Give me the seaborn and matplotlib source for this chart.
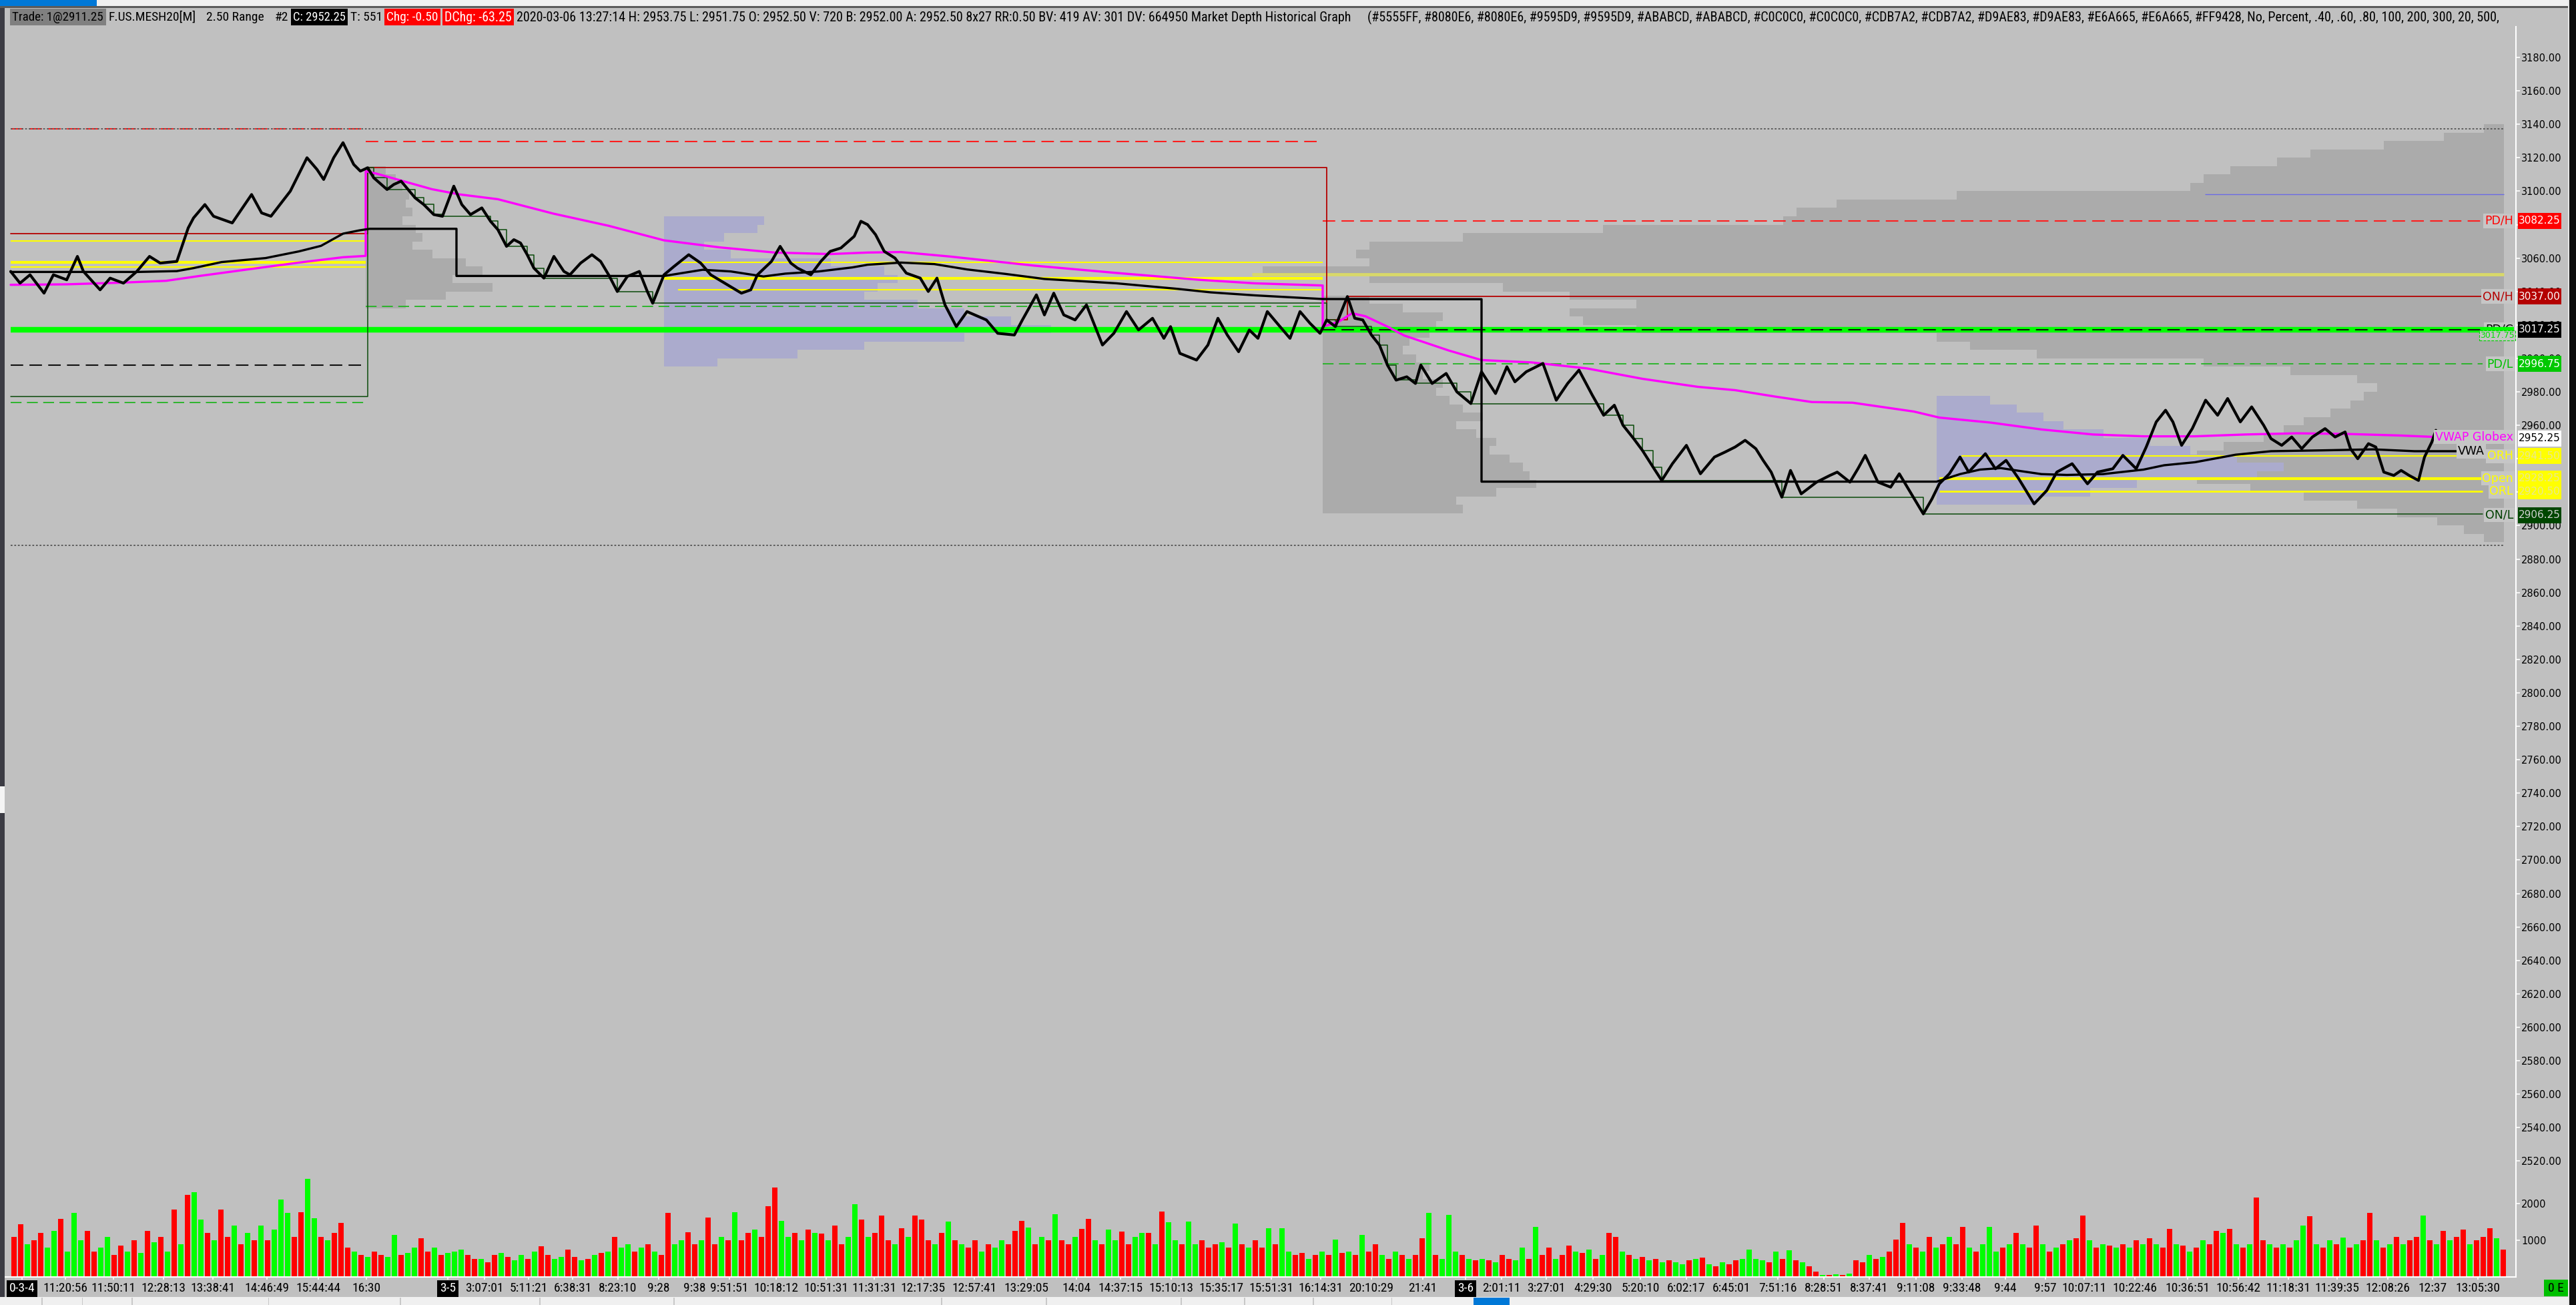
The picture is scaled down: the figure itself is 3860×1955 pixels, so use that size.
import numpy as np
import pandas as pd
import matplotlib
matplotlib.use("Agg")
import matplotlib.pyplot as plt
import matplotlib.transforms as mtransforms
from matplotlib.patches import Rectangle
from matplotlib.ticker import FormatStrFormatter
from matplotlib import font_manager as fm
import seaborn as sns

# ------------------------------------------------------------------ data
# price path (bar index, price)
price_bar = [16, 30, 45, 66, 80, 100, 116, 125, 150, 165,
             185, 205, 224, 240, 265, 282, 290, 307, 320, 348,
             377, 392, 406, 435, 460, 475, 485, 500, 514, 530,
             540, 551, 560, 580, 590, 601, 622, 635, 650, 663,
             680, 692, 705, 722, 735, 746, 759, 770, 780, 790,
             800, 815, 830, 845, 854, 870, 887, 900, 912, 925,
             940, 958, 970, 978, 995, 1010, 1032, 1050, 1065, 1090,
             1111, 1125, 1135, 1156, 1169, 1185, 1195, 1215, 1230, 1244,
             1260, 1280, 1290,
             1300, 1312, 1325, 1341, 1358, 1379, 1391, 1404, 1416, 1433,
             1449, 1478, 1495, 1520, 1532, 1553, 1565, 1579, 1594, 1611,
             1628, 1652, 1669, 1688, 1706, 1727, 1744, 1754, 1768, 1793,
             1810, 1825, 1839, 1856, 1872, 1885, 1899, 1918, 1933, 1948,
             1963, 1978, 1988, 2001, 2019, 2030, 2042, 2055, 2067, 2079,
             2092, 2108, 2121, 2129, 2146, 2167, 2183, 2204, 2220, 2241,
             2258, 2270, 2287, 2312, 2332, 2349, 2366, 2386, 2403, 2419,
             2432, 2448, 2461, 2477, 2490, 2506, 2527, 2548, 2569, 2585,
             2600, 2615, 2631, 2642, 2654, 2670, 2683, 2699, 2722, 2742,
             2753, 2772, 2784, 2795, 2814, 2833, 2846, 2864, 2882, 2895,
             2906, 2921, 2937, 2950, 2975, 2990, 3006, 3025, 3048, 3067,
             3082, 3105, 3128, 3143, 3166, 3181, 3201, 3216, 3231, 3245,
             3256, 3269, 3285, 3305, 3323, 3338, 3357, 3374, 3392, 3403,
             3419, 3434, 3449, 3465, 3484, 3499, 3514, 3522, 3533, 3549,
             3560, 3572, 3587, 3598, 3610, 3624, 3633, 3644, 3650, 3658]
price_close = [3052, 3045, 3050, 3039, 3050, 3047, 3061, 3052, 3041, 3048,
               3045, 3052, 3061, 3057, 3058, 3078, 3084, 3092, 3085, 3081,
               3098, 3087, 3085, 3100, 3120, 3113, 3107, 3120, 3129, 3116,
               3112, 3114, 3108, 3101, 3104, 3106, 3096, 3092, 3086, 3085,
               3103, 3092, 3086, 3090, 3082, 3077, 3067, 3071, 3069, 3062,
               3054, 3048, 3061, 3052, 3050, 3057, 3062, 3058, 3050, 3040,
               3049, 3052, 3040, 3033, 3050, 3055, 3062, 3057, 3050, 3044,
               3039, 3041, 3050, 3058, 3067, 3057, 3054, 3050, 3058, 3064,
               3066, 3073, 3082,
               3080, 3074, 3064, 3060, 3051, 3048, 3040, 3048, 3032, 3019,
               3028, 3023, 3015, 3014, 3023, 3038, 3026, 3039, 3026, 3023,
               3032, 3008, 3015, 3028, 3017, 3024, 3012, 3019, 3003, 2999,
               3008, 3024, 3014, 3004, 3017, 3012, 3028, 3019, 3012, 3028,
               3021, 3015, 3023, 3019, 3037, 3024, 3023, 3014, 3008, 2996,
               2987, 2989, 2985, 2996, 2985, 2991, 2980, 2973, 2992, 2979,
               2995, 2986, 2992, 2997, 2975, 2985, 2993, 2978, 2966, 2972,
               2960, 2952, 2945, 2935, 2927, 2937, 2948, 2931, 2941, 2944,
               2947, 2951, 2946, 2939, 2932, 2917, 2933, 2919, 2926, 2930,
               2932, 2926, 2934, 2942, 2926, 2923, 2931, 2919, 2907, 2916,
               2925, 2931, 2941, 2932, 2943, 2934, 2939, 2928, 2913, 2921,
               2932, 2937, 2925, 2932, 2934, 2942, 2934, 2947, 2962, 2969,
               2962, 2948, 2958, 2975, 2966, 2976, 2962, 2971, 2960, 2952,
               2948, 2953, 2946, 2953, 2958, 2953, 2956, 2946, 2940, 2949,
               2947, 2932, 2930, 2933, 2930, 2927, 2941, 2950, 2957, 2952.25]

# Globex VWAP (magenta)
vwapg_bar = [16, 100, 182, 249, 299, 373, 448, 514, 548,
             548, 564, 614, 647, 688, 746, 829, 912, 995,
             1078, 1161, 1244, 1300, 1350, 1424, 1549, 1673, 1797, 1880,
             1982, 1982, 2005, 2026, 2046, 2079, 2104, 2171, 2220, 2295,
             2378, 2461, 2544, 2600, 2661, 2715, 2776, 2868, 2906, 2983,
             3059, 3136, 3212, 3289, 3365, 3442, 3518, 3595, 3644]
vwapg = [3044, 3044.3, 3045.3, 3046.4, 3049.3, 3053.3, 3057.3, 3060.5, 3061.3,
         3111.9, 3110.5, 3104.9, 3101.2, 3098.1, 3095.2, 3086.6, 3079.3, 3070.6,
         3066.4, 3063.3, 3062.4, 3063.3, 3063.6, 3060.9, 3055.5, 3051.1, 3047, 3044.9,
         3043.6, 3019, 3021.7, 3027, 3025.2, 3019, 3013.7, 3004.7, 2999, 2997.6,
         2994, 2987.8, 2983, 2981, 2977.1, 2973.9, 2973.5, 2968.2, 2964.6, 2961.6,
         2957.5, 2954.5, 2953.4, 2953.4, 2954.5, 2955.2, 2954.8, 2953.9, 2953.1]

# session VWAP / steps (black)
vwaps_bar = [16, 207, 265, 290, 332, 398, 448, 481, 514, 539,
             554, 684, 684, 995, 1053, 1095, 1144, 1177, 1227, 1277,
             1300, 1350, 1400, 1449, 1507, 1565, 1673, 1764, 1814, 1880,
             1982, 2220, 2220, 2902, 2937, 2967, 2998, 3028, 3059, 3097,
             3151, 3212, 3243, 3289, 3350, 3403, 3480, 3556, 3618, 3683]
vwaps = [3051.7, 3051.7, 3052.2, 3054, 3057.6, 3060, 3064, 3067.3, 3074.6, 3076.6,
         3077.5, 3077.5, 3049.3, 3049.3, 3053, 3052, 3049, 3050.7, 3052, 3054.4,
         3056, 3057.3, 3056.4, 3053.2, 3050.5, 3047.5, 3044.9, 3041.6, 3039.5, 3037.7,
         3035.5, 3035.4, 2926.3, 2926.3, 2930.8, 2933.5, 2934.4, 2932.6, 2930.8, 2930.3,
         2930.8, 2933.5, 2936.1, 2937.9, 2942.4, 2944.5, 2945, 2945.6, 2944.5, 2944.5]

# overnight sessions (bar index) and prior overnight levels
on_start = [548, 1982]
on_end = [995, 2902]
prior_on_high = 3074.5
prior_on_low = 2977.1
levels_end_bar = 3720

# horizontal reference levels
level_price = [3137.1, 3070.3, 3057.6, 3054.5, 2995.8, 2973.5,
               3129.6, 3030.9, 3057.3, 3048.0, 3040.9,
               3082.25, 3017.25, 2996.75, 2941.5, 2928.25, 2920.5,
               3137.2, 2888.0, 3018.0, 3016.3, 3050.4, 3098.3]
level_start = [16, 16, 16, 16, 16, 16,
               548, 548, 1020, 995, 1016,
               1982, 1982, 1982, 2939, 2906, 2906,
               16, 16, 16, 16, 1876, 3304]
level_end = [548, 548, 548, 548, 548, 548,
             1982, 1982, 1982, 1982, 1982,
             3720, 3720, 3720, 3720, 3720, 3720,
             3752, 3752, 3767, 3767, 3752, 3752]

# volume profiles: (top price bin, widths in bars, anchor bar)
comp_top, comp_anchor = 3137.5, 3752
comp_width = [30, 90, 180, 290, 340, 410, 450, 470, 820, 1000,
              1060, 1080, 1350, 1560, 1700, 1720, 1700, 1860, 1700, 1500,
              1400, 1300, 1400, 1380, 1300, 850, 800, 700, 450, 320,
              220, 190, 210, 230, 260, 300, 330, 360, 420, 460,
              500, 480, 460, 380, 300, 220, 160, 100, 60, 30]
on2_top, on2_anchor = 3112.5, 548
on2_width = [30, 45, 55, 65, 60, 70, 55, 75, 85, 70, 100, 150, 175, 130, 190, 120, 60]
rth2_top, rth2_anchor = 3082.5, 995
rth2_width = [150, 140, 90, 60, 100, 250, 330, 350, 320, 300, 380, 450, 520, 580, 450, 300, 200, 80]
on3_top, on3_anchor = 3035.0, 1982
on3_width = [70, 120, 180, 170, 160, 130, 120, 140, 160, 150, 180, 170, 190,
             210, 240, 200, 230, 260, 250, 280, 300, 310, 320, 260, 200, 210]
rth3_top, rth3_anchor = 2975.0, 2902
rth3_width = [80, 120, 160, 190, 250, 320, 380, 450, 520, 480, 300, 230, 150]

# volume bars (one slot per 10 bars)
volume = [1100, 1430, 900, 1000, 1200, 800, 1250, 1590, 700, 1740,
          1000, 1250, 700, 800, 1100, 600, 850, 700, 1000, 650,
          1250, 950, 1100, 700, 1830, 900, 2236, 2315, 1557, 1200,
          1000, 1830, 1100, 1400, 900, 1200, 1000, 1400, 1000, 1300,
          2103, 1751, 1100, 1758, 2679, 1600, 1100, 1000, 1200, 1470,
          800, 700, 600, 550, 700, 600, 550, 1150, 600, 650,
          800, 1060, 700, 800, 600, 650, 700, 750, 600, 500,
          500, 400, 600, 650, 550, 450, 600, 500, 700, 830,
          600, 500, 550, 750, 550, 450, 500, 600, 650, 700,
          1100, 800, 900, 700, 800, 900, 700, 600, 1740, 900,
          1000, 1220, 900, 1000, 1620, 900, 1100, 1000, 1770, 1000,
          1200, 1300, 1100, 1920, 2436, 1530, 1100, 1200, 1000, 1300,
          1200, 1190, 1000, 1400, 900, 1100, 1980, 1560, 1100, 1200,
          1667, 1000, 900, 1330, 1100, 1680, 1560, 1000, 900, 1200,
          1510, 1000, 900, 800, 1000, 700, 900, 800, 1000, 900,
          1250, 1530, 1340, 900, 1100, 1000, 1710, 1000, 900, 1100,
          1310, 1590, 1000, 900, 1300, 1000, 1230, 900, 1100, 1200,
          1200, 900, 1788, 1500, 1000, 900, 1510, 900, 1000, 800,
          900, 950, 800, 1450, 900, 800, 1000, 800, 1330, 900,
          1320, 700, 600, 650, 500, 600, 700, 600, 1020, 650,
          700, 600, 1140, 700, 900, 600, 500, 700, 600, 500,
          600, 1060, 1740, 600, 500, 1700, 700, 600, 500, 450,
          500, 450, 400, 600, 500, 450, 800, 500, 1365, 600,
          800, 500, 600, 850, 700, 650, 740, 500, 600, 1195,
          1100, 700, 600, 500, 550, 450, 500, 400, 450, 400,
          350, 450, 500, 530, 350, 300, 400, 350, 450, 500,
          740, 500, 450, 400, 700, 500, 730, 450, 400, 300,
          150, 60, 60, 80, 50, 100, 450, 400, 600, 500,
          550, 700, 1024, 1467, 900, 800, 700, 1100, 800, 900,
          1100, 900, 1357, 800, 700, 900, 1360, 700, 800, 900,
          1200, 900, 800, 1406, 900, 700, 800, 900, 1000, 1050,
          1679, 1000, 800, 900, 850, 800, 900, 800, 1000, 900,
          1050, 900, 800, 1303, 900, 850, 700, 800, 1000, 900,
          1260, 1200, 1303, 900, 800, 900, 2164, 1000, 900, 800,
          900, 800, 1000, 1406, 1660, 900, 800, 1000, 900, 1070,
          800, 900, 1000, 1740, 1000, 800, 900, 1100, 900, 1000,
          1100, 1679, 1000, 900, 1250, 1000, 1100, 1300, 900, 1000,
          1100, 1330, 1050, 740]
volume_dir = ("rrgrrggrgg" "grrggrrgrg" "rgrgrgrggr" "grrgrgrgrg" "ggrrggrgrr"
              "rgrgrrggrg" "grrgrgggrr" "grrgrggrgr" "rggrrgrgrg" "rggrgrgrrg"
              "grrgrrgrgr" "rgrrrggrgr" "grgrrggrgr" "rrgrgrrrgr" "grgrrgrggr"
              "rrgrgrgrrg" "rrgrggrrgg" "rgrggrggrr" "rgrgrgrrgr" "ggrrgrgrgr"
              "grgrrgrgrg" "rrgrgggrgr" "grgrrggrgr" "rgrrgrgrgr" "rgrgrgrgrg"
              "grgrgrgrrg" "gggrgrgrgr" "rgrgrgrrgr" "grrrgrgrgr" "grrgrgggrg"
              "rgrrgrgrgr" "rgrgrgrgrg" "rgrrgrgrgr" "rgrgrgrrgr" "grggrgrgrg"
              "rgrrgrgrgr" "rgrgrgrrgr" "rrgr")

# time axis
tick_bar = [33, 98, 170, 245, 319, 400, 477, 549, 671, 726, 792, 858, 926, 987, 1041,
            1093, 1163, 1238, 1310, 1383, 1460, 1538, 1613, 1679, 1755, 1830, 1905,
            1979, 2055, 2132, 2196, 2250, 2317, 2387, 2458, 2527, 2594, 2664, 2733,
            2801, 2871, 2940, 3005, 3065, 3123, 3199, 3278, 3354, 3429, 3502, 3578,
            3645, 3713]
tick_label = ["0-3-4", "11:20:56", "11:50:11", "12:28:13", "13:38:41", "14:46:49",
              "15:44:44", "16:30", "3-5", "3:07:01", "5:11:21", "6:38:31", "8:23:10",
              "9:28", "9:38", "9:51:51", "10:18:12", "10:51:31", "11:31:31", "12:17:35",
              "12:57:41", "13:29:05", "14:04", "14:37:15", "15:10:13", "15:35:17",
              "15:51:31", "16:14:31", "20:10:29", "21:41", "3-6", "2:01:11", "3:27:01",
              "4:29:30", "5:20:10", "6:02:17", "6:45:01", "7:51:16", "8:28:51",
              "8:37:41", "9:11:08", "9:33:48", "9:44", "9:57", "10:07:11", "10:22:46",
              "10:36:51", "10:56:42", "11:18:31", "11:39:35", "12:08:26", "12:37",
              "13:05:30"]
date_labels = ["0-3-4", "3-5", "3-6"]
price_ticks = list(range(2520, 3181, 20))
volume_ticks = [1000, 2000]

# right-side level tags
tag_price = [3082.25, 3037.00, 3017.25, 2996.75, 2952.25, 2941.50, 2928.25, 2920.50, 2906.25]
tag_name = ["PD/H", "ON/H", "PD/C", "PD/L", "VWAP Globex", "ORH", "Open", "ORL", "ON/L"]
vwa_price = 2944.5
pdc_alt_price = 3017.75

header_parts = ["Trade: 1@2911.25", "F.US.MESH20[M]", "2.50 Range", "#2", "C: 2952.25",
                "T: 551", "Chg: -0.50", "DChg: -63.25",
                "2020-03-06 13:27:14 H: 2953.75 L: 2951.75 O: 2952.50 V: 720 B: 2952.00 "
                "A: 2952.50 8x27 RR:0.50 BV: 419 AV: 301 DV: 664950 Market Depth Historical Graph",
                "(#5555FF, #8080E6, #8080E6, #9595D9, #9595D9, #ABABCD, #ABABCD, #C0C0C0, "
                "#C0C0C0, #CDB7A2, #CDB7A2, #D9AE83, #D9AE83, #E6A665, #E6A665, #FF9428, No, "
                "Percent, .40, .60, .80, 100, 200, 300, 20, 500,"]

# ------------------------------------------------------------------ style
sns.set_style("ticks")
plt.rcParams['font.family'] = ['DejaVu Sans']
names = {f.name for f in fm.fontManager.ttflist}
NARROW = next((n for n in ["Liberation Sans Narrow", "Roboto Condensed", "Open Sans Condensed",
                           "Arial Narrow"] if n in names), None)
if NARROW:
    NKW = dict(family=[NARROW, 'DejaVu Sans'])
    NFS = 14
else:
    NKW = dict(family=['DejaVu Sans'], stretch='condensed')
    NFS = 10

W, H, DPI = 3860, 1955, 100
BG = '#C0C0C0'
RED, GREEN = '#FF0000', '#00FF00'

fig = plt.figure(figsize=(W / DPI, H / DPI), dpi=DPI)
fig.patch.set_facecolor(BG)


def fx(p):
    return p / W


def fy(p):
    return 1 - p / H


def frect(x0, y0, x1, y1, color, z=5):
    fig.add_artist(Rectangle((fx(x0), fy(y1)), fx(x1) - fx(x0), fy(y0) - fy(y1),
                             transform=fig.transFigure, facecolor=color,
                             edgecolor='none', zorder=z))


# panel geometry (pixels)
PX0, PX1 = 7, 3770
PY0, PY1, VY1 = 40, 1745, 1913
PX_PER_PT = 2.505
P_REF, Y_REF = 3180, 86
p_hi = P_REF + (Y_REF - PY0) / PX_PER_PT
p_lo = P_REF - (PY1 - Y_REF) / PX_PER_PT
VOL_PX_PER_1000 = 55
v_hi = (VY1 - PY1) / VOL_PX_PER_1000 * 1000

ax1 = fig.add_axes([fx(PX0), fy(PY1), fx(PX1) - fx(PX0), fy(PY0) - fy(PY1)])
ax2 = fig.add_axes([fx(PX0), fy(VY1), fx(PX1) - fx(PX0), fy(PY1) - fy(VY1)])
for ax in (ax1, ax2):
    ax.set_facecolor(BG)
    for s in ('top', 'left', 'bottom'):
        ax.spines[s].set_visible(False)
    ax.spines['right'].set_color('white')
    ax.spines['right'].set_linewidth(1.5)
    ax.yaxis.tick_right()
ax2.spines['bottom'].set_visible(True)
ax2.spines['bottom'].set_color('white')
ax2.spines['bottom'].set_linewidth(1.5)

# ------------------------------------------------------------------ profiles
PROF_GRAY = '#ABABAB'
PROF_BLUE = '#ABABCD'


def profile(top, widths, anchor, color, from_right=False, z=1):
    bins = top - 5 * np.arange(len(widths))
    w = np.array(widths, dtype=float)
    left = anchor - w if from_right else np.full_like(w, anchor)
    ax1.barh(bins, w, left=left, height=5, color=color, linewidth=0, zorder=z)


profile(comp_top, comp_width, comp_anchor, PROF_GRAY, from_right=True, z=1)
profile(on2_top, on2_width, on2_anchor, PROF_GRAY, z=1.2)
profile(rth2_top, rth2_width, rth2_anchor, PROF_BLUE, z=1.2)
profile(on3_top, on3_width, on3_anchor, PROF_GRAY, z=1.2)
profile(rth3_top, rth3_width, rth3_anchor, PROF_BLUE, z=1.2)

# ------------------------------------------------------------------ levels
level_style = [
    ('#FF1E1E', (0, (9, 4.5)), 1.5), ('#FFFF00', '-', 1.5), ('#FFFF00', '-', 3.0),
    ('#FFFF00', '-', 1.5), ('#101010', (0, (9, 4.5)), 1.5), ('#22B422', (0, (9, 4.5)), 1.3),
    ('#FF1E1E', (0, (9, 4.5)), 1.5), ('#22B422', (0, (9, 4.5)), 1.3), ('#FFFF00', '-', 1.5),
    ('#FFFF00', '-', 3.0), ('#FFFF00', '-', 1.5),
    ('#FF1E1E', (0, (9, 4.5)), 1.5), ('#101010', (0, (9, 4.5)), 1.5), ('#22B422', (0, (9, 4.5)), 1.3),
    ('#FFFF00', '-', 1.5), ('#FFFF00', '-', 3.0), ('#FFFF00', '-', 2.0),
    ('#555555', (0, (1.5, 1.5)), 1.3), ('#555555', (0, (1.5, 1.5)), 1.3),
    ('#00FF00', '-', 3.2), ('#00FF00', '-', 3.2), ('#D8D86A', '-', 3.5), ('#6A6AE6', '-', 1.0),
]
for p, x0, x1, (c, ls, lw) in zip(level_price, level_start, level_end, level_style):
    z = 2.6 if c == '#101010' else 2.2
    ax1.hlines(p, x0, x1, colors=c, linestyles=ls, linewidth=lw, zorder=z)

# overnight running high / low
px = np.array(price_bar, dtype=float)
pp = np.array(price_close, dtype=float)
hi_x, hi_y, lo_x, lo_y = [16], [prior_on_high], [16], [prior_on_low]
for s0, s1 in zip(on_start, on_end):
    m = (px >= s0) & (px < s1)
    hi_x += list(px[m]); hi_y += list(np.maximum.accumulate(pp[m]))
    lo_x += list(px[m]); lo_y += list(np.minimum.accumulate(pp[m]))
hi_x.append(levels_end_bar); hi_y.append(hi_y[-1])
lo_x.append(levels_end_bar); lo_y.append(lo_y[-1])
sns.lineplot(x=hi_x, y=hi_y, sort=False, estimator=None, color='#B40000', linewidth=1.3,
             drawstyle='steps-post', ax=ax1, zorder=2.4)
sns.lineplot(x=lo_x, y=lo_y, sort=False, estimator=None, color='#0A4A0A', linewidth=1.1,
             drawstyle='steps-post', ax=ax1, zorder=2.4)

# VWAP lines
sns.lineplot(x=vwapg_bar, y=vwapg, sort=False, estimator=None, color='#FF00FF',
             linewidth=2.4, ax=ax1, zorder=3)
sns.lineplot(x=vwaps_bar, y=vwaps, sort=False, estimator=None, color='#000000',
             linewidth=2.4, ax=ax1, zorder=3.1)

# price
sns.lineplot(x=price_bar, y=price_close, sort=False, estimator=None, color='black',
             linewidth=3.0, ax=ax1, zorder=6)

# ------------------------------------------------------------------ volume
VOL_X0, VOL_STEP = 16, 10
vdf = pd.DataFrame({'bar': VOL_X0 + VOL_STEP / 2 + VOL_STEP * np.arange(len(volume)),
                    'vol': volume, 'dir': list(volume_dir)})
sns.barplot(data=vdf, x='bar', y='vol', hue='dir', palette={'r': RED, 'g': GREEN},
            native_scale=True, dodge=False, width=0.75, saturation=1, errorbar=None,
            legend=False, linewidth=0, ax=ax2)

# ------------------------------------------------------------------ axes
ax1.set_xlim(PX0, PX1)
ax1.set_ylim(p_lo, p_hi)
ax2.set_xlim(PX0, PX1)
ax2.set_ylim(0, v_hi)
for ax in (ax1, ax2):
    ax.set_xlabel('')
    ax.set_ylabel('')

ax1.set_yticks(price_ticks)
ax1.yaxis.set_major_formatter(FormatStrFormatter('%.2f'))
ax1.tick_params(axis='y', direction='out', length=4, width=1.2, color='white',
                labelcolor='black', labelsize=10.5, pad=2)
ax1.tick_params(axis='x', bottom=False, labelbottom=False)

ax2.set_yticks(volume_ticks)
ax2.yaxis.set_major_formatter(FormatStrFormatter('%d'))
ax2.tick_params(axis='y', direction='out', length=4, width=1.2, color='white',
                labelcolor='black', labelsize=10.5, pad=2)
ax2.set_xticks(tick_bar)
ax2.set_xticklabels(tick_label, fontsize=NFS, **NKW)
ax2.tick_params(axis='x', direction='out', length=3, width=1.2, color='white',
                labelcolor='black', pad=3)
for lab in ax2.get_xticklabels():
    if lab.get_text() in date_labels:
        lab.set_color('white')
        lab.set_bbox(dict(facecolor='black', edgecolor='none', boxstyle='square,pad=0.18'))

# ------------------------------------------------------------------ right tags & labels
trans = mtransforms.blended_transform_factory(fig.transFigure, ax1.transData)
tag_fc = ['#FF0000', '#B40000', '#000000', '#00C800', '#FFFFFF', '#FFFF00', '#FFFF00', '#FFFF00', '#004600']
tag_tc = ['white', 'white', 'white', 'white', 'black', '#E8E890', '#E8E890', '#E8E890', '#D0D0D0']
lab_c = ['#FF0000', '#B40000', '#000000', '#00C000', '#FF00FF', '#FFFF00', '#FFFF00', '#FFFF00', '#004000']
TAG_H = 24 / PX_PER_PT
for p, name, fc, tc, lc in zip(tag_price, tag_name, tag_fc, tag_tc, lab_c):
    ax1.add_patch(Rectangle((fx(3773), p - TAG_H / 2), fx(3838) - fx(3773), TAG_H,
                            transform=trans, facecolor=fc, edgecolor='none',
                            clip_on=False, zorder=10))
    ax1.text(fx(3805.5), p, f"{p:.2f}", transform=trans, ha='center', va='center',
             fontsize=11, color=tc, zorder=11, clip_on=False)
    z = 2.0 if name == 'PD/C' else 9
    ax1.text(3766, p + (0.8 if name == 'VWAP Globex' else 0), name, ha='right', va='center',
             fontsize=12.5, color=lc, zorder=z,
             bbox=dict(boxstyle='square,pad=0.1', facecolor='#C6C6C6', edgecolor='none'))
ax1.text(3683, vwa_price, "VWA", ha='left', va='center', fontsize=12.5, color='black', zorder=8.5,
         bbox=dict(boxstyle='square,pad=0.1', facecolor='#C6C6C6', edgecolor='none'))
ax1.text(3742, pdc_alt_price - 4, f"{pdc_alt_price:.2f}", ha='center', va='center',
         fontsize=9, color='#00E000', zorder=9,
         bbox=dict(boxstyle='square,pad=0.1', facecolor='#C6C6C6', edgecolor='#00D000',
                   linestyle='--', linewidth=0.8))

# ------------------------------------------------------------------ window chrome
frect(0, 0, W, 9, '#F0F0F0')
frect(0, 0, 145, 9, '#0078D7', z=6)
frect(0, 9, W, 12, '#5A5A5A')
frect(0, 12, PX0, 1943, '#3C3C44')
frect(0, 1178, PX0, 1218, '#F4F4F4', z=6)
frect(3848, 0, 3850, 1955, '#E6E6E6')
frect(3850, 0, W, H, '#0C0C0C')
frect(0, 1943, 3848, H, '#F0F0F0')
for sx in [62, 123, 197, 402, 599, 808, 1009, 1410, 1567, 1769, 1864, 1967, 2085]:
    frect(sx, 1944, sx + 1.5, H, '#C8C8C8', z=6)
frect(2208, 1944, 2262, H, '#0078D7', z=6)
frect(3812, 1917, 3848, 1942, '#00C000', z=6)
fig.text(fx(3830), fy(1930), "0 E", ha='center', va='center', fontsize=NFS, color='black',
         zorder=7, **NKW)

# ------------------------------------------------------------------ header
renderer = fig.canvas.get_renderer()
HY = 26
box_spec = {0: (15, 159, '#808080', 'black'), 4: (436, 521, '#000000', 'white'),
            6: (576, 660, '#FF0000', 'white'), 7: (663, 770, '#FF0000', 'white')}
starts = [18, 163, 309, 412, 439, 525, 579, 666, 774, 2049]
fit_end = {8: 2032, 9: 3765}
for i, (s, x0) in enumerate(zip(header_parts, starts)):
    color = 'black'
    if i in box_spec:
        bx0, bx1, bfc, color = box_spec[i]
        frect(bx0, 13, bx1, 38, bfc, z=6)
    t = fig.text(fx(x0), fy(HY), s, ha='left', va='center', fontsize=NFS, color=color,
                 zorder=7, **NKW)
    target = fit_end.get(i)
    if target is None and i in box_spec:
        target = box_spec[i][1] - 3
    if target is not None:
        w = t.get_window_extent(renderer).width
        if w > 0:
            t.set_fontsize(NFS * (target - x0) / w)

fig.savefig("out.png", dpi=DPI, facecolor=BG)
